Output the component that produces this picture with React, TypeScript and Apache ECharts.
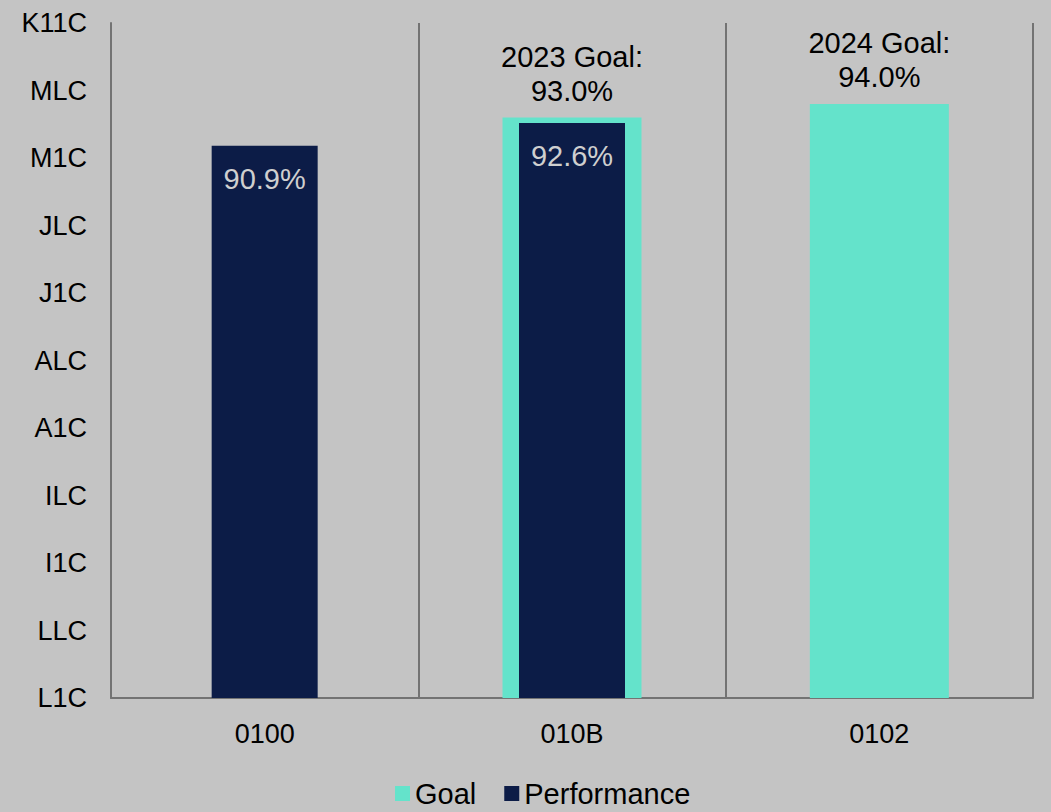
import React, { useEffect, useRef } from "react";
import * as echarts from "echarts";

const categories = ["0100", "010B", "0102"];
const goalValues: (number | null)[] = [null, 93.0, 94.0];
const goalLabels = ["", "2023 Goal:", "2024 Goal:"];
const performanceValues: (number | null)[] = [90.9, 92.6, null];
const tickValues = [50, 55, 60, 65, 70, 75, 80, 85, 90, 95, 100];
const tickLabels = ["L1C", "LLC", "I1C", "ILC", "A1C", "ALC", "J1C", "JLC", "M1C", "MLC", "K11C"];

const FONT = "'Liberation Sans', Arial, sans-serif";

export default function App() {
  const ref = useRef<HTMLDivElement>(null);
  useEffect(() => {
    if (!ref.current) return;
    const chart = echarts.init(ref.current, null, { renderer: "svg" });
    const axisColor = "#737373";
    chart.setOption({
      animation: false,
      backgroundColor: "#C4C4C4",
      textStyle: { fontFamily: FONT },
      grid: { left: 111, right: 18, top: 23, bottom: 114 },
      legend: {
        data: ["Goal", "Performance"],
        top: 774,
        left: 390,
        icon: "rect",
        itemWidth: 15,
        itemHeight: 15,
        itemGap: 28,
        textStyle: { fontSize: 29, color: "#000", fontFamily: FONT },
      },
      xAxis: [
        {
          type: "category",
          data: categories,
          boundaryGap: true,
          axisLine: { show: true, lineStyle: { color: axisColor, width: 2 } },
          axisTick: { show: false },
          splitLine: { show: true, lineStyle: { color: axisColor, width: 2 } },
          axisLabel: { fontSize: 27, color: "#000", margin: 22, fontFamily: FONT },
        },
        {
          type: "category",
          data: categories,
          boundaryGap: true,
          show: false,
        },
      ],
      yAxis: {
        type: "value",
        min: 50,
        max: 100,
        interval: 5,
        axisLine: { show: true, lineStyle: { color: axisColor, width: 2 } },
        axisTick: { show: false },
        splitLine: { show: false },
        axisLabel: {
          fontSize: 27,
          color: "#000",
          margin: 24,
          fontFamily: FONT,
          formatter: (v: number) => {
            const i = tickValues.indexOf(Math.round(v));
            return i >= 0 ? tickLabels[i] : "";
          },
        },
      },
      series: [
        {
          name: "Goal",
          type: "bar",
          xAxisIndex: 1,
          barWidth: 139,
          data: goalValues,
          itemStyle: { color: "#64E3CB" },
          label: {
            show: true,
            position: "top",
            distance: 10,
            fontSize: 29,
            lineHeight: 34,
            color: "#000",
            fontFamily: FONT,
            formatter: (p: any) => `${goalLabels[p.dataIndex]}\n${Number(p.value).toFixed(1)}%`,
          },
        },
        {
          name: "Performance",
          type: "bar",
          xAxisIndex: 0,
          barWidth: 106,
          data: performanceValues,
          itemStyle: { color: "#0C1C47" },
          label: {
            show: true,
            position: "insideTop",
            distance: 19,
            fontSize: 29,
            color: "#CFCFCF",
            fontFamily: FONT,
            formatter: (p: any) => `${Number(p.value).toFixed(1)}%`,
          },
        },
      ],
    });
    return () => chart.dispose();
  }, []);
  return (
    <div
      ref={ref}
      style={{ position: "absolute", left: 0, top: 0, width: 1051, height: 812 }}
    />
  );
}
